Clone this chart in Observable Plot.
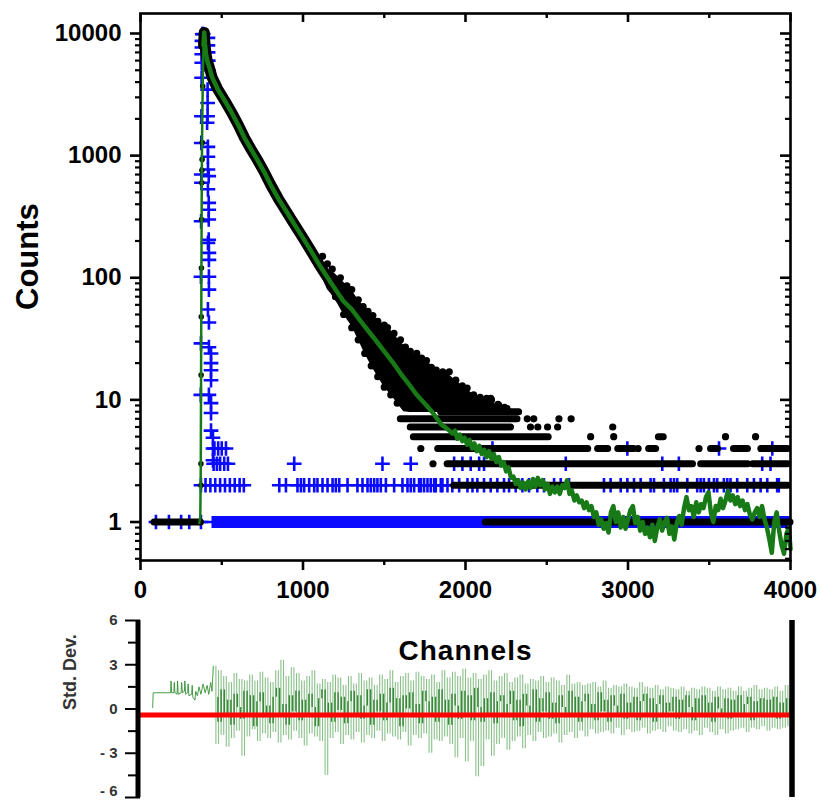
<!DOCTYPE html>
<html><head><meta charset="utf-8">
<script src="https://cdn.jsdelivr.net/npm/d3@7"></script>
<script src="https://cdn.jsdelivr.net/npm/@observablehq/plot@0.6"></script>
<style>
body{margin:0;background:#fff;}
#wrap{position:relative;width:821px;height:801px;background:#fff;}
#top{position:absolute;left:0;top:0;}
#bot{position:absolute;left:0;top:605px;}
</style></head>
<body><div id="wrap"><div id="top"></div><div id="bot"></div></div>
<script>
// ---------- tick values ----------
const xTicks = [0, 1000, 2000, 3000, 4000];
const xMinorTicks = [500, 1500, 2500, 3500];
const yTicks = [1, 10, 100, 1000, 10000];
const yMinorTicks = [0.5,0.6,0.7,0.8,0.9, 2,3,4,5,6,7,8,9, 20,30,40,50,60,70,80,90, 200,300,400,500,600,700,800,900, 2000,3000,4000,5000,6000,7000,8000,9000];
const resTicks = [-6, -3, 0, 3, 6];
const resMinorTicks = [-4.5, -1.5, 1.5, 4.5];

// ---------- fitted decay (channel, counts) ----------
const fitCurve = [
[362,0.98],[368,1.1],[371,3],[373,20],[375,120],[377,600],[380,2000],[384,4500],[388,8000],[392,10200],
[397,8200],[403,6800],[412,5900],[425,5200],[440,4400],[475,3500],[520,2800],[557,2300],[600,1800],[640,1400],
[680,1130],[720,920],[760,740],[800,580],[850,440],[900,345],[950,270],[1000,212],[1050,165],[1100,128],
[1172,91],[1250,64],[1300,55],[1350,45],[1400,37],[1450,30.5],[1500,25],[1550,20.5],[1600,16.5],[1650,13.5],
[1700,11],[1760,9],[1800,7.8],[1850,6.3],[1880,5.9],[1900,5.6],[1920,5.3],
[1935,5.6],[1950,4.8],[1965,5.2],[1980,4.6],[1995,4.9],[2010,4.3],[2025,4.7],[2040,4.0],[2055,4.4],[2070,3.8],
[2085,4.2],[2100,3.6],[2115,3.9],[2130,3.4],[2145,3.8],[2160,3.3],[2175,3.6],[2190,3.1],[2205,3.4],[2220,2.9],
[2235,3.1],[2250,2.6],[2265,2.8],[2280,2.3],[2295,2.35],[2310,2.05],[2325,2.2],[2340,1.9],[2355,2.1],[2370,1.85],
[2385,2.15],[2400,1.9],[2415,2.25],[2430,1.95],[2445,2.3],[2460,2.0],[2475,2.2],[2490,1.85],[2505,2.05],[2520,1.7],
[2535,1.95],[2550,1.75],[2565,1.95],[2580,1.7],[2595,2.0],[2610,1.9],[2625,2.2],[2640,1.7],[2655,1.8],[2670,1.5],
[2685,1.65],[2700,1.45],[2715,1.5],[2730,1.3],[2745,1.45],[2760,1.25],[2775,1.35],[2790,1.1],[2805,1.2],[2820,0.95],
[2835,1.05],[2850,0.88],[2865,0.98],[2880,0.82],[2895,1.2],[2910,1.35],[2925,1.0],[2940,1.2],[2955,0.9],[2970,1.1],
[2985,0.88],[3000,1.05],[3015,1.25],[3030,1.35],[3045,0.98],[3060,1.1],[3075,0.85],[3090,1.0],[3105,0.8],[3120,0.9],
[3135,0.75],[3150,0.95],[3165,0.7],[3180,0.9],[3195,1.05],[3210,0.85],[3225,1.0],[3240,1.08],[3255,0.8],[3270,0.92],
[3285,0.72],[3300,0.98],[3315,1.12],[3330,0.95],[3345,1.3],[3360,1.6],[3375,1.25],[3390,1.35],[3405,1.1],[3420,1.45],
[3435,1.2],[3450,1.4],[3465,1.3],[3480,1.6],[3495,1.75],[3510,1.2],[3525,1.0],[3540,1.35],[3555,1.25],[3570,1.55],
[3585,1.3],[3600,1.5],[3615,1.8],[3630,1.5],[3645,1.65],[3660,1.4],[3675,1.6],[3690,1.35],[3705,1.5],[3720,1.25],
[3735,1.4],[3750,1.15],[3765,1.05],[3780,1.2],[3795,1.3],[3810,1.1],[3825,1.35],[3840,1.05],[3855,0.9],[3870,0.72],
[3885,0.56],[3900,1.0],[3915,1.2],[3930,0.85],[3945,0.65],[3960,0.55],[3975,0.8],[3990,0.9],[4000,0.6]
];

// ---------- measured decay data (black dots) ----------
// dense scatter cloud: channel, lower counts, upper counts
const dataCloud = [
[1050,150,185],[1100,114,150],
[1150,80,112],[1172,74,116],[1210,62,104],[1250,50,92],[1300,40,79],[1340,31,66],[1380,24,57],[1420,19,50],
[1460,15.5,45],[1500,12.7,41],[1540,11,37],[1580,9.4,32],[1620,8,28],[1660,7.9,25],[1700,7.9,23],[1760,7.9,21],
[1800,7.9,18.5],[1850,7.9,17],[1900,7.9,16],[1950,7.9,14],[2000,7.9,12.5],[2050,7.9,11],[2100,7.9,10.3],
[2150,7.9,9.8],[2200,7.9,9],[2240,7.9,8.5]
];
// integer-count rows of dots: counts, first channel, last channel
const dataRows = [
[1,86,372],[1,2125,4000],[2,1930,3985],
[3,1890,3400],[3,3450,3740],[3,3770,3985],
[4,1832,2755],[4,2816,2878],[4,2940,3038],[4,3130,3173],[4,3511,3554],[4,3652,3738],[4,3830,3985],
[5,1682,2512],[5,3190,3220],[6,1663,2280],[7,1602,2320],[8,1850,2330]
];
const risingDots = [[372,2],[372,3],[373,16],[374,48],[375,120],[376,300],[377,600],[378,760],[379,930],[380,1280],[383,3700]];
const cloudEdgeDots = [
[1120,150],[1150,130],[1180,118],[1230,100],[1270,86],[1300,80],[1340,66],[1370,58],[1400,53],[1430,49],[1460,44],[1500,41],[1520,39],
[1560,35],[1600,31],[1630,27],[1660,25],[1700,24],[1730,22],[1760,21],[1790,18.5],[1820,17.5],[1860,17],[1900,17],
[1940,14.5],[1980,13],[2010,12.5],[2050,11],[2090,10.5],[2130,10.3],[2160,10],[2200,9.2],[2240,8.7],
[1200,70],[1250,50],[1300,39],[1340,31],[1380,24],[1420,19],[1460,15.5],[1500,12.7],[1540,11],[1580,9.4]
];
const strayDots = [
[1725,4],[1800,3],[2155,10.3],[2205,9],[2255,8.5],[2770,5],[2912,5],[3600,5],[3785,5],
[2400,6],[2445,6],[2505,6],[2567,6],[2906,6],[2380,7],[2420,7],[2575,7],[2650,7],[3062,4],[3437,4],[3818,4]
];

// ---------- instrument response (blue crosses) ----------
const irfPeak = [
[371,11],[372,29],[372,102],[373,290],[375,600],[374,700],[374,1270],[375,2100],[376,4340],[377,5760],[377,6760],
[378,7670],[378,8700],[380,9870],[386,9900],
[415,9200],[415,8000],[416,7000],[417,6000],[418,5000],[413,3470],[413,2700],[413,2100],[410,1860],[415,1180],
[415,980],[415,770],[420,680],[415,530],[420,410],[420,360],[420,300],[420,205],[415,193],[421,160],[421,140],
[421,102],[421,80],[415,55],[421,43],[421,27],[434,24],[434,20],[434,17.5],[434,14.5],[421,11],[434,9.4],
[434,7.8],[434,5.6],[446,4.9],[446,3.2]
];
const irfRow1Ch = [95,175,250,300,372];
const irfRow2Ch = [372,400,430,460,490,520,550,580,610,636,
854,895,966,987,1007,1038,1069,1089,1120,1151,1182,1202,1223,1274,1335,1366,1397,1417,1438,1458,1479,1510,1561,
1612,1643,1663,1684,1714,1725,1745,1766,1786,1807,1817,1848,1858,1889,1919,1961,2012,2043,2073,2114,2155,2196,
2237,2268,2309,2350,2391,2442,2483,2545,2586,2637,2852,2893,2955,2996,3037,3078,3139,3160,3221,3262,3283,3303,
3365,3426,3447,3467,3498,3529,3549,3590,3611,3631,3672,3734,3775,3816,3857,3918,3928];
const irfRow3Ch = [450,470,490,515,538,946,1489,1663,1930,1981,2032,2084,2114,2617,3211,3313,3826,3877];
const irfRow4Ch = [446,455,478,500,526,2166,2996,3560,3888];
const irfRow1Line = [[1,95,4000]];   // thin baseline of crosses
const irfRow1Band = [[1,440,4000]];  // continuous crosses at 1 count

// ---------- weighted residuals ----------
const resEarly = [[75,0.1],[78,1.1],[185,1.1],[188,1.9],[192,1.1],[205,1.1],[208,1.8],[212,1.1],[225,1.0],[228,1.9],
[232,1.0],[250,1.1],[253,1.8],[258,1.1],[270,1.2],[273,1.9],[278,1.0],[290,1.1],[293,1.7],[298,0.9],[315,1.0],
[318,1.6],[322,0.8],[335,0.6],[340,1.2],[350,0.9],[360,1.5],[372,1.0],[385,1.7],[398,1.1],[410,1.6],[420,1.0],
[432,1.8],[440,1.2],[448,2.9]];
const resStartCh = 448, resStepCh = 16;
const resValues = [
2.9,-2.4,2.6,-1.8,2.2,-2.6,1.8,-2.0,2.4,-1.5,
2.0,-3.2,1.9,-1.9,2.3,-1.4,1.9,-2.2,2.5,-1.7,
2.1,-2.0,1.8,-1.6,2.6,-2.3,3.3,-1.8,2.2,-2.1,
2.8,-1.5,2.4,-2.0,1.9,-2.5,2.2,-1.7,2.6,-1.9,
1.7,-2.2,2.0,-4.5,1.8,-2.0,2.3,-1.6,2.1,-2.4,
1.6,-1.8,2.2,-2.1,1.7,-1.6,2.4,-2.3,1.9,-1.8,
2.1,-2.0,1.6,-1.5,2.3,-2.2,2.0,-1.7,2.6,-1.9,
1.8,-2.1,2.2,-1.6,2.4,-2.5,1.9,-1.8,2.5,-2.0,
2.2,-1.7,2.0,-3.0,2.3,-2.1,1.8,-2.2,2.6,-1.9,
2.1,-2.4,2.5,-3.3,2.2,-2.0,2.7,-3.6,2.1,-2.2,
2.4,-4.6,2.0,-3.9,2.3,-2.1,2.6,-3.2,1.9,-2.4,
2.2,-2.0,2.4,-2.8,1.8,-2.2,2.1,-1.9,2.3,-2.7,
1.7,-1.8,2.0,-2.2,1.9,-1.6,2.2,-2.0,1.8,-1.9,
2.1,-1.7,1.9,-2.3,1.6,-1.8,2.3,-1.6,1.7,-2.0,
1.8,-1.5,1.6,-1.9,1.7,-1.4,1.8,-1.7,1.5,-1.6,
1.9,-1.5,1.4,-1.7,1.6,-1.3,1.5,-1.8,1.7,-1.4,
1.5,-1.6,1.4,-1.5,1.8,-1.3,1.5,-1.7,1.4,-1.5,
1.6,-1.4,1.3,-1.6,1.5,-1.2,1.4,-1.5,1.3,-1.6,
1.5,-1.4,1.2,-1.7,1.4,-1.5,1.3,-1.8,1.5,-1.3,
1.4,-1.6,1.2,-1.8,1.5,-1.4,1.3,-1.7,1.4,-1.5,
1.2,-1.4,1.5,-1.3,1.2,-1.6,1.4,-1.3,1.6,-1.4,
1.3,-1.2,1.4,-1.5,1.3,-1.3,1.5,-1.4,1.2,-1.3,
1.6,-1.2,1.3
];
// dense core of the residual band (every 20 channels from 456)
const resCoreStartCh = 456, resCoreStepCh = 20;
const resCoreValues = [
0.8,-0.9,1.3,-0.4,0.6,-1.1,1.0,0.1,-0.7,1.2,
-0.3,0.9,-1.2,0.5,1.1,-0.6,0.2,-1.0,0.8,1.4,
-0.5,0.3,-1.1,0.9,-0.2,1.2,-0.8,0.6,-0.4,1.0,
0.1,-1.2,0.7,1.3,-0.6,0.4,-0.9,1.1,-0.1,0.8,
-1.0,0.5,1.2,-0.3,0.9,-0.7,0.2,1.3,-1.1,0.6,
-0.2,1.0,-0.8,0.4,1.4,-0.5,0.7,-1.2,0.9,0.0,
1.1,-0.6,0.3,-1.0,1.2,0.5,-0.4,0.8,-0.9,1.3,
-0.3,0.6,-1.1,1.0,0.2,-0.7,1.2,-0.5,0.9,-0.8,
1.4,0.1,-0.9,0.7,-0.4,1.1,-1.0,0.5,0.9,-0.6,
0.3,1.2,-0.8,0.6,-1.2,1.0,0.2,-0.5,1.3,-0.9,
0.7,-0.2,1.1,-0.7,0.4,-1.0,0.9,0.1,-0.6,1.2,
-0.4,0.8,-0.9,0.5,1.0,-0.6,0.3,-0.8,1.1,-0.2,
0.6,-0.9,0.9,0.2,-0.5,1.0,-0.7,0.4,-0.3,0.8,
-0.8,0.5,1.0,-0.4,0.7,-0.9,0.3,0.9,-0.6,0.4,
-0.2,0.8,-0.7,0.6,-0.5,0.9,0.1,-0.8,0.7,-0.3,
0.9,-0.6,0.4,-0.9,0.8,0.0,-0.5,0.7,-0.7,0.6,
-0.4,0.9,-0.6,0.3,0.8,-0.8,0.5,-0.3,0.7,-0.6,
0.6,-0.5,0.8,-0.7,0.4,-0.4,0.7,-0.6
];
const residualBaseline = -0.4;

// ---------- build ----------
const BLUE = "#0a0aff", GREEN = "#177a17", BLACK = "#000", RESGREEN = "#2a8c2a", RED = "#ff0000";
const FONT = "'Liberation Sans', Arial, Helvetica, sans-serif";
const W = 821, topH = 605, mT = 13, mB = 45, mL = 140, mR = 31;
const innerW = W - mL - mR, innerH = topH - mT - mB;

const irfCrosses = [
  ...irfPeak,
  ...irfRow1Ch.map(c => [c, 1]),
  ...irfRow2Ch.map(c => [c, 2]),
  ...irfRow3Ch.map(c => [c, 3]),
  ...irfRow4Ch.map(c => [c, 4])
];
const allDots = [...cloudEdgeDots, ...strayDots];
const X = d => d[0], Y = d => d[1];

const topChart = Plot.plot({
  width: W, height: topH, marginTop: mT, marginBottom: mB, marginLeft: mL, marginRight: mR,
  style: {fontFamily: FONT, background: "#fff", overflow: "visible", color: "#000"},
  x: {domain: [0, 4000]},
  y: {type: "log", domain: [0.484, 14580]},
  marks: [
    Plot.ruleY(irfRow1Line, {y: d => d[0], x1: d => d[1], x2: d => d[2], stroke: BLUE, strokeWidth: 2.5}),
    Plot.ruleY(irfRow1Band, {y: d => d[0], x1: d => d[1], x2: d => d[2], stroke: BLUE, strokeWidth: 12}),
    Plot.dot(irfCrosses, {x: X, y: Y, symbol: "plus", r: 4.8, stroke: BLUE, strokeWidth: 2.6}),
    Plot.line(fitCurve.filter(d => d[0] >= 388 && d[0] <= 1260), {x: X, y: Y, stroke: BLACK, strokeWidth: 11, strokeLinecap: "round", strokeLinejoin: "round"}),
    Plot.areaY(dataCloud, {x: d => d[0], y1: d => d[1], y2: d => d[2], fill: BLACK}),
    Plot.ruleY(dataRows, {y: d => d[0], x1: d => d[1], x2: d => d[2], stroke: BLACK, strokeWidth: 7, strokeLinecap: "round"}),
    Plot.dot(allDots, {x: X, y: Y, r: 3.6, fill: BLACK}),
    Plot.dot(risingDots, {x: X, y: Y, r: 2.8, fill: "#111"}),
    Plot.line(fitCurve.filter(d => d[0] <= 392), {x: X, y: Y, stroke: GREEN, strokeWidth: 2.5}),
    Plot.line(fitCurve.filter(d => d[0] >= 388), {x: X, y: Y, stroke: GREEN, strokeWidth: 4.5, strokeLinejoin: "round"}),
    Plot.frame({stroke: BLACK, strokeWidth: 2.6}),
    Plot.axisX({ticks: xTicks, tickSize: 10, tickPadding: 10, strokeWidth: 2.6, tickFormat: d => String(d), label: null, fontSize: 24, fontWeight: "bold"}),
    Plot.axisX({ticks: xMinorTicks, tickSize: 5, strokeWidth: 2.4, tickFormat: () => "", label: null}),
    Plot.axisY({ticks: yTicks, tickSize: 10, tickPadding: 9, strokeWidth: 2.6, tickFormat: d => String(d), label: null, fontSize: 24, fontWeight: "bold"}),
    Plot.axisY({ticks: yMinorTicks, tickSize: 5, strokeWidth: 2.2, tickFormat: () => "", label: null}),
    Plot.tickX(xTicks, {x: d => d, insetBottom: innerH - 9, strokeWidth: 2.6}),
    Plot.tickX(xMinorTicks, {x: d => d, insetBottom: innerH - 5, strokeWidth: 2.4}),
    Plot.tickY(yTicks, {y: d => d, insetLeft: innerW - 10, strokeWidth: 2.6}),
    Plot.tickY(yMinorTicks, {y: d => d, insetLeft: innerW - 5, strokeWidth: 2.2}),
    Plot.text(["Counts"], {text: d => d, frameAnchor: "left", dx: -112, dy: 23, rotate: -90, fontSize: 31, fontWeight: "bold"})
  ]
});
document.getElementById("top").appendChild(topChart);

// residual spikes: each vertical stroke joins a value to the one before it
const toSpikes = (vals, start, step) => vals.map((v, i) => ({ch: start + i * step, from: i ? vals[i - 1] : v, to: v}));
const resSpikes = toSpikes(resValues, resStartCh, resStepCh);
const coreSpikes = toSpikes(resCoreValues, resCoreStartCh, resCoreStepCh);
const botH = 196;
const botChart = Plot.plot({
  width: W, height: botH, marginTop: 15, marginBottom: 4, marginLeft: mL, marginRight: mR,
  style: {fontFamily: FONT, background: "#fff", overflow: "visible", color: "#000"},
  x: {domain: [0, 4000], axis: null},
  y: {domain: [-6, 6], axis: null},
  marks: [
    Plot.line(resEarly, {x: X, y: Y, stroke: RESGREEN, strokeWidth: 1, strokeOpacity: 0.85}),
    Plot.ruleX(resSpikes, {x: "ch", y1: "from", y2: "to", stroke: RESGREEN, strokeWidth: 1.1, strokeOpacity: 0.55}),
    Plot.ruleX(coreSpikes, {x: "ch", y1: "from", y2: "to", stroke: "#1a741a", strokeWidth: 1.4, strokeOpacity: 0.85}),
    Plot.ruleY([residualBaseline], {stroke: RED, strokeWidth: 5}),
    Plot.axisY({ticks: resTicks, tickSize: 15, tickPadding: 8, strokeWidth: 2, label: null,
      tickFormat: d => d < 0 ? "- " + (-d) : String(d), fontSize: 15, fontWeight: "bold", fill: "#333"}),
    Plot.axisY({ticks: resMinorTicks, tickSize: 12, strokeWidth: 2, tickFormat: () => "", label: null}),
    Plot.ruleX([0], {stroke: BLACK, strokeWidth: 5, dx: -2.5}),
    Plot.ruleX([4000], {stroke: BLACK, strokeWidth: 5.5, dx: 1.5}),
    Plot.text(["Channels"], {text: d => d, frameAnchor: "top", dy: 20, fontSize: 28, fontWeight: "bold"}),
    Plot.text(["Std. Dev."], {text: d => d, frameAnchor: "left", dx: -70, dy: 1, rotate: -90, fontSize: 18, fontWeight: "bold", fill: "#333"})
  ]
});
document.getElementById("bot").appendChild(botChart);
d3.select(botChart).selectAll("text").filter(function() { return this.textContent === "Channels"; }).style("letter-spacing", "1px");
d3.select(botChart).selectAll("text").filter(function() { return this.textContent.trim() === "- 6"; })
  .each(function() { const t = this.getAttribute("transform") || ""; this.setAttribute("transform", t + " translate(0,-6)"); });
</script>
</body></html>
